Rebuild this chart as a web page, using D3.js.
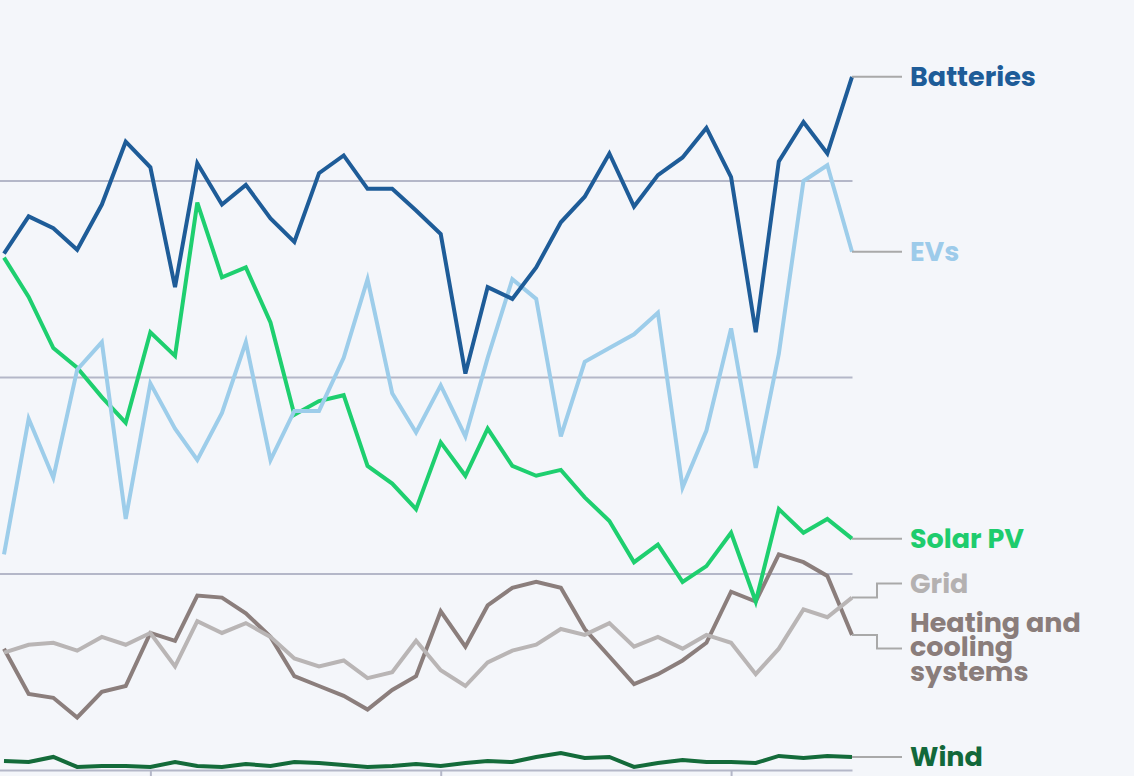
<!DOCTYPE html>
<html>
<head>
<meta charset="utf-8">
<script src="https://cdn.jsdelivr.net/npm/d3@7"></script>
<style>
  html, body { margin: 0; padding: 0; background: #f4f6fa; }
  svg { display: block; }
  .lbl { font-family: Poppins, "Open Sans", Lato, sans-serif; font-weight: 700; font-size: 27px; }
</style>
</head>
<body>
<svg id="chart" width="1134" height="776"></svg>
<script>
// ---- data ----
const months = [
  "2021-07","2021-08","2021-09","2021-10","2021-11","2021-12",
  "2022-01","2022-02","2022-03","2022-04","2022-05","2022-06",
  "2022-07","2022-08","2022-09","2022-10","2022-11","2022-12",
  "2023-01","2023-02","2023-03","2023-04","2023-05","2023-06",
  "2023-07","2023-08","2023-09","2023-10","2023-11","2023-12",
  "2024-01","2024-02","2024-03","2024-04","2024-05","2024-06"
];
const batteries = [263,282,276,265,288,320,307,246,309,288,298,281,269,304,313,296,296,285,273,202,246,240,256,279,292,314,287,303,312,327,302,223,310,330,314,353];
const evs       = [110,179,149,204,218,128,197,174,158,182,218,158,183,183,210,250,192,172,196,170,210,250,240,170,208,215,222,233,144,173,225,154,212,300,308,264];
const solarPV   = [261,241,215,205,190,177,223,211,289,251,256,228,181,188,191,155,146,133,167,150,174,155,150,153,139,127,106,115,96,104,121,86,133,121,128,118];
const grid      = [60,64,65,61,68,64,70,53,76,70,75,68,57,53,56,47,50,66,51,43,55,61,64,72,69,75,63,68,62,69,65,49,62,82,78,88];
const heating   = [62,39,37,27,40,43,70,66,89,88,80,68,48,43,38,31,41,48,81,63,84,93,96,93,72,58,44,49,56,65,91,86,110,106,99,69];
const wind      = [4.8,4.3,6.9,1.8,2.3,2.3,1.8,4.3,2.3,1.8,3.3,2.3,4.3,3.8,2.8,1.8,2.3,3.3,2.3,3.8,4.8,4.3,6.9,8.9,6.4,6.9,1.8,3.8,5.3,4.3,4.3,3.8,7.4,6.4,7.4,6.9];
const gridValues = [0, 100, 200, 300];
const seriesNames = ["Batteries","EVs","Solar PV","Grid","Heating and cooling systems","Wind"];

const series = [
  {name: "Batteries", lines: ["Batteries"], values: batteries, color: "#1e5c98", label: "#1e5c98", to: null},
  {name: "EVs", lines: ["EVs"], values: evs, color: "#9dcdea", label: "#9dcbea", to: null},
  {name: "Solar PV", lines: ["Solar PV"], values: solarPV, color: "#1ecf6f", label: "#1ecc6d", to: null},
  {name: "Grid", lines: ["Grid"], values: grid, color: "#b9b5b5", label: "#b4b1b1", to: 583.5},
  {name: "Heating and cooling systems", lines: ["Heating and","cooling","systems"], values: heating, color: "#8b7e7c", label: "#8a7d7b", to: 648.5},
  {name: "Wind", lines: ["Wind"], values: wind, color: "#146b3a", label: "#12683a", to: null}
];

// ---- scales ----
const parse = d3.utcParse("%Y-%m");
const dates = months.map(parse);
const x = d3.scaleUtc().domain([dates[0], dates[dates.length - 1]]).range([4, 852]);
const y = d3.scaleLinear().domain([0, 400]).range([770.5, -15.5]);
const plotLeft = 0, plotRight = 852.5;

const svg = d3.select("#chart");
svg.append("rect").attr("width", 1134).attr("height", 776).attr("fill", "#f4f6fa");

// gridlines
svg.append("g").selectAll("line").data(gridValues).join("line")
  .attr("x1", plotLeft).attr("x2", plotRight)
  .attr("y1", d => y(d)).attr("y2", d => y(d))
  .attr("stroke", "#b4b7c8").attr("stroke-width", 2);

// x axis ticks
const ax = svg.append("g").attr("transform", `translate(0,${y(0)})`)
  .call(d3.axisBottom(x).ticks(d3.utcYear.every(1)).tickSize(7).tickFormat(""));
ax.select(".domain").remove();
ax.selectAll(".tick line").attr("stroke", "#b4b7c8").attr("stroke-width", 2);

// lines
const line = d3.line().x((d, i) => x(dates[i])).y(d => y(d));
svg.append("g").selectAll("path").data(series.slice().reverse()).join("path")
  .attr("d", d => line(d.values))
  .attr("fill", "none")
  .attr("stroke", d => d.color)
  .attr("stroke-width", 4)
  .attr("stroke-linejoin", "miter");

// labels with connectors
const lg = svg.append("g");
const xEnd = x(dates[dates.length - 1]);
series.forEach(s => {
  const y0 = y(s.values[s.values.length - 1]);
  const y1 = s.to == null ? y0 : s.to;
  const xm = 877, xl = 902;
  const pts = s.to == null ? [[xEnd, y0], [xl, y0]] : [[xEnd, y0], [xm, y0], [xm, y1], [xl, y1]];
  lg.append("path").attr("d", d3.line()(pts))
    .attr("fill", "none").attr("stroke", "#a9a9a9").attr("stroke-width", 2);
  const n = s.lines.length, lh = 24.5;
  const t = lg.append("text").attr("class", "lbl").attr("fill", s.label)
    .attr("x", 910);
  s.lines.forEach((ln, i) => {
    t.append("tspan").attr("x", 910)
      .attr("y", y1 + 9.5 + (i - (n - 1) / 2) * lh - (n > 1 ? 2 : 0))
      .text(ln);
  });
});
</script>
</body>
</html>
